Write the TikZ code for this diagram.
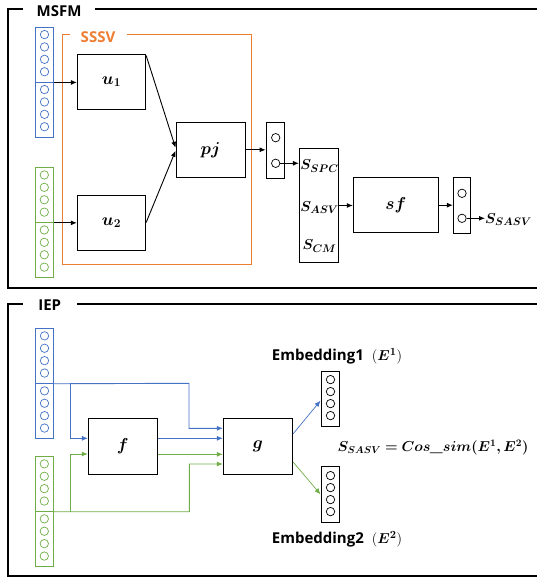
\documentclass[tikz,border=0pt]{standalone}
\usepackage{fontspec}
\usepackage{amsmath}
\usepackage{bm}
\newfontfamily\labfont{Open Sans}
\usetikzlibrary{arrows.meta,calc}
\definecolor{vblue}{HTML}{4472C4}
\definecolor{vgreen}{HTML}{70AD47}
\definecolor{vorange}{HTML}{ED7D31}
\tikzset{
  box/.style={draw=black, line width=0.9pt, fill=white, inner sep=0pt, font=\fontsize{17}{20}\selectfont},
  frame/.style={line width=2pt, black},
  half/.style={draw, line width=0.9pt, minimum width=17.6pt, minimum height=55pt, inner sep=0pt},
  dot/.style={circle, draw, line width=0.7pt, minimum size=8.4pt, inner sep=0pt},
  arr/.style={-{Latex[length=6pt,width=5pt]}, line width=0.9pt},
  heading/.style={font=\labfont\bfseries\fontsize{15}{18}\selectfont, inner sep=0pt},
  slab/.style={font=\fontsize{15}{18}\selectfont, inner sep=0pt},
}
\newcommand{\vecdots}[2]{% node name, color
  \foreach \k in {1,...,4}{\node[dot,draw=#2] at ($(#1.north)+(0,8+12.4*\k-12.4)$) {};}}
\begin{document}
\begin{tikzpicture}[x=1pt,y=-1pt]
\useasboundingbox (0,0) rectangle (536,577);
% ===== frames =====
\draw[frame] (23,9.3) -- (8,9.3) -- (8,287.7) -- (540,287.7);
\draw[frame] (95,9.3) -- (540,9.3);
\node[heading] (tmsfm) at (59,11) {MSFM};
\draw[frame] (22.7,303.5) -- (8,303.5) -- (8,575.7) -- (540,575.7);
\draw[frame] (77.3,303.5) -- (540,303.5);
\node[heading] (tiep) at (49.7,305) {IEP};
% ===== SSSV =====
\draw[vorange, line width=0.9pt] (70,34.3) -- (62.7,34.3) -- (62.7,264) -- (251.7,264) -- (251.7,34.3) -- (127,34.3);
\node[heading, text=vorange] (tsssv) at (98,37) {SSSV};
% ===== MSFM vectors =====
\node[half, draw=vblue] (mbA) at (44.5,54.5) {};
\node[half, draw=vblue] (mbB) at (44.5,109.5) {};
\node[half, draw=vgreen] (mgA) at (44.3,194.9) {};
\node[half, draw=vgreen] (mgB) at (44.3,249.9) {};
\vecdots{mbA}{vblue}
\vecdots{mbB}{vblue}
\vecdots{mgA}{vgreen}
\vecdots{mgB}{vgreen}
% ===== MSFM boxes =====
\node[box, minimum width=68.4pt, minimum height=55pt] (u1) at (111.5,81.8) {$\bm{u_1}$};
\node[box, minimum width=68.4pt, minimum height=55pt] (u2) at (111.5,222.5) {$\bm{u_2}$};
\node[box, minimum width=69pt, minimum height=55pt] (pj) at (210.5,149.8) {$\bm{pj}$};
\node[box, minimum width=18pt, minimum height=55.6pt] (sb1) at (275,150.5) {};
\node[dot] (c11) at (275.7,137.7) {};
\node[dot] (c12) at (275.7,163.3) {};
\node[box, minimum width=39pt, minimum height=114.4pt] (S) at (318.8,205.5) {};
\node[slab] (sspc) at (319.5,166) {$\bm{S_{SPC}}$};
\node[slab] (sasv) at (319.5,207.5) {$\bm{S_{ASV}}$};
\node[slab] (scm) at (319.5,246) {$\bm{S_{CM}}$};
\node[box, minimum width=85pt, minimum height=55pt] (sf) at (395.8,205.2) {$\bm{sf}$};
\node[box, minimum width=17.4pt, minimum height=55.6pt] (sb2) at (462,205.5) {};
\node[dot] (c21) at (462,193.3) {};
\node[dot] (c22) at (462,218.3) {};
\node[slab, anchor=west] (sout) at (485,219.5) {$\bm{S_{SASV}}$};
% MSFM arrows
\draw[arr] (mbA.south east) -- (mbA.south east -| u1.west);
\draw[arr] (mgA.south east) -- (mgA.south east -| u2.west);
\draw[arr] ($(u1.north east)!0.03!(u1.south east)$) -- ($(pj.west)+(0,-2)$);
\draw[arr] ($(u2.north east)!0.5!(u2.south east)$) -- ($(pj.west)+(0,1)$);
\draw[arr] (pj.east) -- (pj.east -| sb1.west);
\draw[arr] (c12.east) -- (c12.east -| S.west);
\draw[arr] (S.east) -- (S.east -| sf.west);
\draw[arr] (sf.east) -- (sf.east -| sb2.west);
\draw[arr] (c22.east) -- (c22.east -| sout.west);
% ===== IEP vectors =====
\node[half, draw=vblue] (ibA) at (44.5,355.8) {};
\node[half, draw=vblue] (ibB) at (44.5,410.8) {};
\node[half, draw=vgreen] (igA) at (44.3,483.8) {};
\node[half, draw=vgreen] (igB) at (44.3,538.8) {};
\vecdots{ibA}{vblue}
\vecdots{ibB}{vblue}
\vecdots{igA}{vgreen}
\vecdots{igB}{vgreen}
% ===== IEP boxes =====
\node[box, minimum width=69pt, minimum height=55.7pt] (f) at (122.8,446.2) {$\bm{f}$};
\node[box, minimum width=69.4pt, minimum height=55.7pt] (g) at (258,446.2) {$\bm{g}$};
\node[box, minimum width=17.6pt, minimum height=55.7pt] (e1) at (330.5,398.8) {};
\node[box, minimum width=17.6pt, minimum height=56pt] (e2) at (330.5,494.7) {};
\foreach \yy in {379.6,391.6,403.6,415.6} {\node[dot] at (330.5,\yy) {};}
\foreach \yy in {475.6,487.6,499.6,511.6} {\node[dot] at (330.5,\yy) {};}
% IEP blue connectors
\draw[arr, vblue] (ibA.south east) -- (189,383.3) |- ($(g.west)+(0,-17.9)$);
\draw[arr, vblue] (70,383.3) |- ($(f.west)+(0,-7.9)$);
\draw[arr, vblue] ($(f.east)+(0,-7.9)$) -- ($(g.west)+(0,-7.9)$);
% IEP green connectors
\draw[arr, vgreen] ($(f.east)+(0,8.1)$) -- ($(g.west)+(0,8.1)$);
\draw[arr, vgreen] (igA.south east) -- (189.3,511.7) |- ($(g.west)+(0,17.8)$);
\draw[arr, vgreen] (70.7,511.7) |- ($(f.west)+(0,7.8)$);
% outputs
\draw[arr, vblue, line width=0.7pt] ($(g.north east)!0.28!(g.south east)$) -- ($(e1.west)+(-0.8,1.9)$);
\draw[arr, vgreen, line width=0.7pt] ($(g.north east)!0.78!(g.south east)$) -- ($(e2.west)+(-0.8,-0.4)$);
% texts
\node[inner sep=0pt] (t1) at (337,356) {{\labfont\bfseries\fontsize{15}{18}\selectfont Embedding1}\fontsize{15}{18}\selectfont$\;\;(\bm{E^1})$};
\node[inner sep=0pt] (t2) at (337,539.3) {{\labfont\bfseries\fontsize{15}{18}\selectfont Embedding2}\fontsize{15}{18}\selectfont$\;\;(\bm{E^2})$};
\node[inner sep=0pt, font=\fontsize{14.3}{17}\selectfont] (eq) at (433,447.5) {$\bm{S_{SASV}} \mathrel{\bm{=}} \bm{Cos}\textbf{\textit{\_}}\bm{sim(E^1,E^2)}$};
\end{tikzpicture}
\end{document}
